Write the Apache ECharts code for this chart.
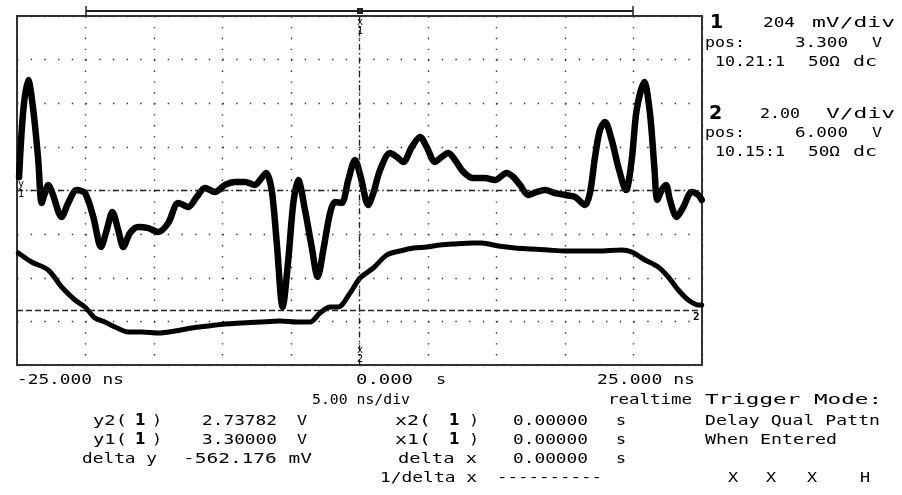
<!DOCTYPE html>
<html>
<head>
<meta charset="utf-8">
<script src="https://cdn.jsdelivr.net/npm/echarts@6/dist/echarts.min.js"></script>
<style>
html,body{margin:0;padding:0;background:#fff;}
#c{width:902px;height:495px;}
</style>
</head>
<body>
<div id="c"></div>
<script>
// ---- data (time in ns, voltage in V) ----
const ch1Time = [-24.85,-24.54,-24.18,-23.81,-23.45,-23.20,-22.96,-22.72,-22.42,-21.74,
  -21.26,-20.64,-20.04,-19.43,-18.87,-18.45,-18.04,-17.61,-17.24,-16.75,
  -16.15,-15.42,-14.69,-13.96,-13.23,-12.50,-11.88,-11.28,-10.55,-9.82,
  -9.09,-8.36,-7.63,-7.26,-6.82,-6.41,-6.04,-5.61,-5.20,-4.83,
  -4.47,-3.98,-3.49,-3.05,-2.64,-2.15,-1.79,-1.30,-0.82,-0.33,
  0.09,0.64,1.01,1.50,2.23,2.72,3.20,3.81,4.42,4.91,
  5.51,6.00,6.48,6.97,7.58,8.31,9.16,9.89,10.74,11.23,
  11.72,12.32,12.93,13.54,14.27,15.00,15.73,16.46,16.82,17.19,
  17.55,17.92,18.41,18.89,19.45,19.87,20.23,20.79,21.20,21.52,
  21.74,22.06,22.37,22.66,23.15,23.64,24.25,24.73,24.98];
const ch1Volts = [3.363,3.676,3.817,3.676,3.443,3.242,3.288,3.326,3.288,3.176,
  3.242,3.302,3.288,3.176,3.036,3.115,3.199,3.115,3.036,3.101,
  3.129,3.124,3.106,3.148,3.242,3.223,3.270,3.312,3.293,3.326,
  3.340,3.340,3.326,3.349,3.382,3.302,3.055,2.755,2.975,3.242,
  3.349,3.209,3.036,2.896,3.022,3.195,3.246,3.242,3.349,3.443,
  3.363,3.232,3.288,3.396,3.475,3.457,3.433,3.503,3.550,3.503,
  3.433,3.457,3.475,3.443,3.387,3.358,3.358,3.349,3.382,3.363,
  3.326,3.279,3.293,3.302,3.288,3.279,3.270,3.232,3.288,3.457,
  3.583,3.620,3.536,3.410,3.302,3.443,3.676,3.807,3.662,3.410,
  3.256,3.302,3.326,3.256,3.176,3.223,3.293,3.279,3.256];
const ch2Time = [-24.90,-23.93,-22.72,-21.74,-20.77,-20.04,-19.31,-18.58,-17.85,-16.88,
  -15.90,-14.69,-13.47,-12.25,-11.04,-9.82,-8.60,-7.26,-5.80,-4.58,
  -3.61,-2.88,-2.15,-1.55,-0.69,0.04,1.01,1.99,2.96,3.93,
  4.91,5.88,6.85,8.31,8.92,10.13,11.35,12.57,13.78,15.00,
  16.22,17.43,19.14,19.87,20.84,21.81,22.54,23.27,24.00,24.73,24.98];
const ch2Volts = [3.135,2.722,2.355,1.576,0.980,0.659,0.155,-0.029,-0.258,-0.487,
  -0.487,-0.533,-0.441,-0.304,-0.212,-0.120,-0.074,-0.029,0.017,-0.029,
  -0.029,0.384,0.659,0.659,1.301,1.989,2.447,3.043,3.226,3.364,
  3.410,3.501,3.547,3.593,3.593,3.455,3.364,3.318,3.272,3.226,
  3.226,3.226,3.272,3.180,2.814,2.493,2.034,1.438,0.980,0.751,0.751];

// scope settings
const ch1Scale = 0.204, ch1Pos = 3.300;   // V/div, V
const ch2Scale = 2.00,  ch2Pos = 6.000;
const timeMin = -25, timeMax = 25, timeDiv = 5;
const cursorY1 = 3.30000, cursorY2 = 2.73782, cursorX = 0;
const deltaYText = '-562.176 mV';
const timeLabels = ['-25.000 ns', '0.000', 's', '25.000 ns'];

// ---- rendering ----
const chart = echarts.init(document.getElementById('c'));
const FONT = '14px "DejaVu Sans Mono", monospace';
const BFONT = 'bold 15px "DejaVu Sans", sans-serif';
const mctx = document.createElement('canvas').getContext('2d');
function measure(s, f){ mctx.font = f; return mctx.measureText(s).width; }
function T(str, x, y, w, opt){
  opt = opt || {};
  const font = opt.font || FONT;
  const sx = w ? w / measure(str, font) : (opt.sx || 1.2);
  return {type:'text', x:x, y:y, scaleX:sx, silent:true, z:10,
    style:{text:str, font:font, fill:'#000', align:'left', verticalAlign:'middle'}};
}
const R1=380, R2=400, R3=421, R4=440, R5=459, R6=478;
const P1=23, P2=43, P3=62, P4=114, P5=133, P6=152;
const g = [];
g.push(T(timeLabels[0], 17, R1, 107));
g.push(T(timeLabels[1], 356, R1, 57));
g.push(T(timeLabels[2], 436, R1));
g.push(T(timeLabels[3], 597, R1, 98));
g.push(T((timeDiv).toFixed(2)+' ns/div', 312, R2, 98));
g.push(T('realtime', 608, R2, 84));
g.push(T('Trigger Mode:', 705, R2, 177));
g.push(T('Delay Qual Pattn', 705, R3, 175));
g.push(T('When Entered', 705, R4, 132));
g.push(T('X', 728, R6), T('X', 766, R6), T('X', 807, R6), T('H', 860, R6));
// cursor readouts
[['y2(', R3, cursorY2.toFixed(5)], ['y1(', R4, cursorY1.toFixed(5)]].forEach(function(r){
  g.push(T(r[0], 93, r[1], 34));
  g.push(T('1', 135, r[1], null, {font:BFONT, sx:1}));
  g.push(T(')', 152, r[1]));
  g.push(T(r[2], 202, r[1], 75));
  g.push(T('V', 297, r[1]));
});
g.push(T('delta y', 82, R5, 75));
g.push(T(deltaYText, 183, R5, 129));
[['x2(', R3], ['x1(', R4]].forEach(function(r){
  g.push(T(r[0], 395, r[1], 36));
  g.push(T('1', 449, r[1], null, {font:BFONT, sx:1}));
  g.push(T(')', 469, r[1]));
  g.push(T('0.00000', 513, r[1], 75));
  g.push(T('s', 616, r[1]));
});
g.push(T('delta x', 398, R5, 79));
g.push(T('0.00000', 513, R5, 75));
g.push(T('s', 616, R5));
g.push(T('1/delta x', 380, R6, 97));
g.push(T('----------', 497, R6, 105));
// channel panel
const BIG = 'bold 19px "DejaVu Sans", sans-serif';
g.push(T('1', 710, P1, null, {font:BIG, sx:1}));
g.push(T(String(Math.round(ch1Scale*1000)), 763, P1, 32));
g.push(T('mV/div', 812, P1, 83));
g.push(T('pos:', 705, P2, 40));
g.push(T(ch1Pos.toFixed(3), 795, P2, 53));
g.push(T('V', 872, P2));
g.push(T('10.21:1', 715, P3, 70));
g.push(T('50Ω', 808, P3, 32));
g.push(T('dc', 853, P3, 24));
g.push(T('2', 709, P4, null, {font:BIG, sx:1}));
g.push(T(ch2Scale.toFixed(2), 760, P4, 40));
g.push(T('V/div', 826, P4, 69));
g.push(T('pos:', 705, P5, 40));
g.push(T(ch2Pos.toFixed(3), 795, P5, 53));
g.push(T('V', 872, P5));
g.push(T('10.15:1', 715, P6, 70));
g.push(T('50Ω', 808, P6, 32));
g.push(T('dc', 853, P6, 24));
// memory bar and markers
const LC = '#222';
g.push({type:'line', silent:true, shape:{x1:86,y1:11,x2:633,y2:11}, style:{stroke:LC, lineWidth:2}});
g.push({type:'line', silent:true, shape:{x1:86,y1:6,x2:86,y2:16}, style:{stroke:LC, lineWidth:1.5}});
g.push({type:'line', silent:true, shape:{x1:633,y1:6,x2:633,y2:16}, style:{stroke:LC, lineWidth:1.5}});
g.push({type:'rect', silent:true, shape:{x:357,y:8,width:6,height:6}, style:{fill:LC}});
const SF = '10px "DejaVu Sans Mono", monospace';
g.push(T('x', 357, 22, null, {font:SF, sx:1}));
g.push(T('1', 357, 31, null, {font:SF, sx:1}));
g.push(T('x', 357, 350, null, {font:SF, sx:1}));
g.push(T('2', 357, 359, null, {font:SF, sx:1}));
g.push(T('y', 18, 184, null, {font:SF, sx:1}));
g.push(T('1', 18, 194, null, {font:SF, sx:1}));
g.push(T('2', 693, 317, null, {font:'bold 11px "DejaVu Sans Mono", monospace', sx:1}));

function zip(a, b){ return a.map(function(v,i){ return [v, b[i]]; }); }
const dot = '#333';
chart.setOption({
  animation:false,
  backgroundColor:'#fff',
  grid:{left:17, top:16, width:685, height:349, show:true, borderColor:'#333', borderWidth:2, backgroundColor:'#fff'},
  xAxis:{type:'value', min:timeMin, max:timeMax, interval:timeDiv,
    axisLine:{show:false}, axisTick:{show:false}, axisLabel:{show:false},
    splitLine:{show:true, lineStyle:{color:dot, width:1.4, type:[1.4, 9.506]}}},
  yAxis:[
    {type:'value', min:-4, max:4, interval:1,
      axisLine:{show:false}, axisTick:{show:false}, axisLabel:{show:false},
      splitLine:{show:true, lineStyle:{color:dot, width:1.4, type:[1.4, 12.3]}}},
    {type:'value', show:false, min:ch1Pos-4*ch1Scale, max:ch1Pos+4*ch1Scale, splitLine:{show:false}},
    {type:'value', show:false, min:ch2Pos-4*ch2Scale, max:ch2Pos+4*ch2Scale, splitLine:{show:false}}
  ],
  series:[
    {type:'line', yAxisIndex:1, data:[], z:2, silent:true,
      markLine:{silent:true, symbol:'none', label:{show:false}, animation:false,
        data:[
          {yAxis:cursorY1, lineStyle:{color:'#222', width:1.3, type:[6,3,1.5,3.2]}},
          {yAxis:cursorY2, lineStyle:{color:'#222', width:1.3, type:[6,3]}},
          {xAxis:cursorX, lineStyle:{color:'#222', width:1.3, type:[6,3,1.5,3.2]}}
        ]}},
    {name:'1', type:'line', yAxisIndex:1, data:zip(ch1Time, ch1Volts), showSymbol:false, smooth:0.3, z:4,
      lineStyle:{color:'#000', width:6.5, cap:'round', join:'round'}},
    {name:'2', type:'line', yAxisIndex:2, data:zip(ch2Time, ch2Volts), showSymbol:false, smooth:0.3, z:4,
      lineStyle:{color:'#000', width:5, cap:'round', join:'round'}}
  ],
  graphic:g
});
</script>
</body>
</html>
